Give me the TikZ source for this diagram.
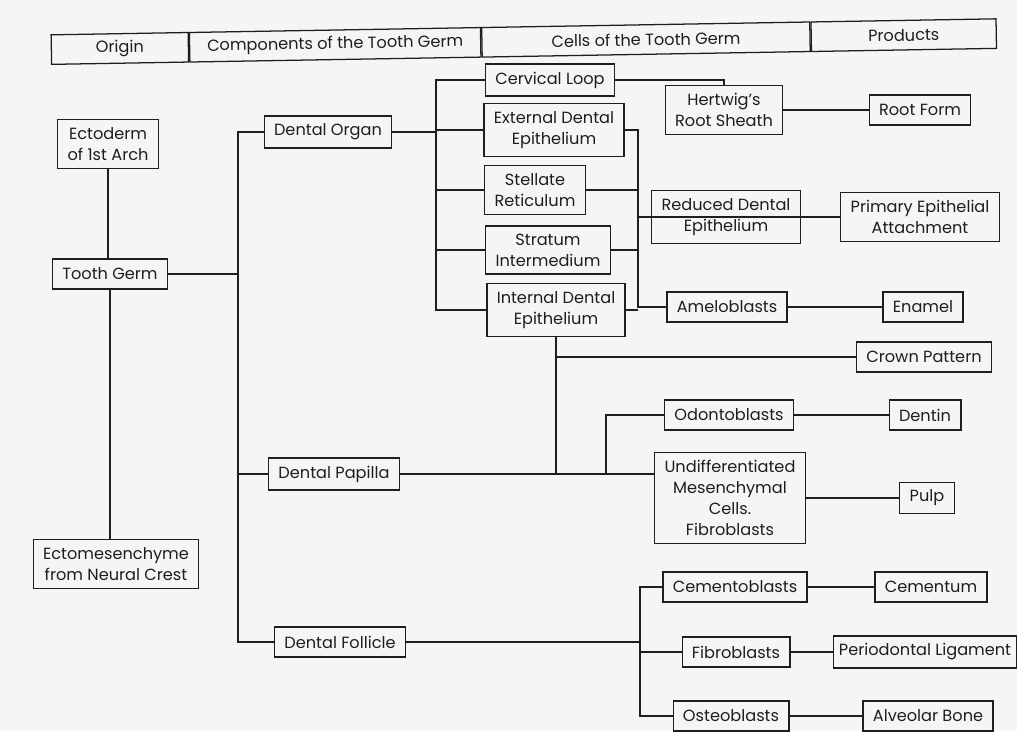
\documentclass[tikz,border=0pt]{standalone}
\usepackage{fontspec}
\setmainfont{Poppins}
\usepackage{tikz}
\definecolor{ink}{HTML}{1E1E1E}
\definecolor{paper}{HTML}{F5F5F5}
\newcommand{\boxfont}{\fontsize{11.5}{15}\selectfont}

\begin{document}
\begin{tikzpicture}[x=0.025cm, y=-0.025cm,
        box/.style={draw=ink, line width=0.9pt, text=ink, font=\boxfont,
                align=center, inner xsep=7pt, inner ysep=5.5pt,
                minimum height=21.5pt},
        hcell/.style={draw=ink, line width=0.9pt, text=ink, font=\boxfont,
                minimum height=21pt, inner sep=0pt},
        link/.style={draw=ink, line width=0.9pt}
    ]
    \fill[paper] (0,0) rectangle (1017,731);
    \useasboundingbox (0,0) rectangle (1017,731);

    % Intestazione: leggermente inclinata come nella scansione
    \begin{scope}[shift={(51,65)}, rotate=0.97, transform shape]
        \node[hcell, minimum width=3.425cm, anchor=south west] (hor) at (0,0) {Origin};
        \node[hcell, minimum width=7.275cm, anchor=west] (hco) at (hor.east) {Components of the Tooth Germ};
        \node[hcell, minimum width=8.2cm, anchor=west] (hce) at (hco.east) {Cells of the Tooth Germ};
        \node[hcell, minimum width=4.625cm, anchor=west] (hpr) at (hce.east) {Products};
    \end{scope}

    % Origine e componenti
    \node[box] (ect) at (108,144) {Ectoderm\\of 1st Arch};
    \node[box] (ger) at (110,274) {Tooth Germ};
    \node[box] (ems) at (116,564) {Ectomesenchyme\\from Neural Crest};
    \node[box] (org) at (328,132) {Dental Organ};
    \node[box] (pap) at (334,474) {Dental Papilla};
    \node[box] (fol) at (340,642) {Dental Follicle};

    % Cellule
    \node[box] (cer) at (550,80)  {Cervical Loop};
    \node[box] (ede) at (554,130) {External Dental\\Epithelium};
    \node[box] (ste) at (535,190) {Stellate\\Reticulum};
    \node[box] (str) at (548,250) {Stratum\\Intermedium};
    \node[box] (ide) at (556,310) {Internal Dental\\Epithelium};
    \node[box] (her) at (724,110) {Hertwig’s\\Root Sheath};
    \node[box] (red) at (726,217) {Reduced Dental\\Epithelium};
    \node[box] (ame) at (727,307) {Ameloblasts};
    \node[box] (odo) at (729,415) {Odontoblasts};
    \node[box] (umc) at (730,498) {Undifferentiated\\Mesenchymal\\Cells.\\Fibroblasts};
    \node[box] (cmb) at (735,587) {Cementoblasts};
    \node[box] (fib) at (736,652) {Fibroblasts};
    \node[box] (ost) at (731,716) {Osteoblasts};

    % Prodotti
    \node[box] (roo) at (920,110) {Root Form};
    \node[box] (pea) at (920,217) {Primary Epithelial\\Attachment};
    \node[box] (ena) at (923,307) {Enamel};
    \node[box] (cro) at (924,357) {Crown Pattern};
    \node[box] (den) at (925,415) {Dentin};
    \node[box] (pul) at (927,498) {Pulp};
    \node[box] (cem) at (931,587) {Cementum};
    \node[box, inner xsep=4pt] (pdl) at (925,652) {Periodontal Ligament};
    \node[box] (alv) at (928,716) {Alveolar Bone};

    \coordinate (t1) at (238,0);
    \coordinate (t2) at (436,0);
    \coordinate (t3) at (638,0);
    \coordinate (t4) at (606,0);
    \coordinate (t5) at (640,0);

    \draw[link] (ect.south) -- (ect.south |- ger.north);
    \draw[link] (ger.south) -- (ger.south |- ems.north);
    \draw[link] (ger.east) -- (ger.east -| t1);
    \draw[link] (org.west) -- (org.west -| t1) |- (fol.west);
    \draw[link] (pap.west) -- (pap.west -| t1);

    \draw[link] (org.east) -- (org.east -| t2);
    \draw[link] (cer.west) -- (cer.west -| t2) |- (ide.west);
    \foreach \n in {ede, ste, str}
        \draw[link] (\n.west) -- (\n.west -| t2);

    \draw[link] (cer.east) -| (her.north);
    \draw[link] (ede.east) -- (ede.east -| t3) |- (ame.west);
    \foreach \n in {ste, str, ide, red}
        \draw[link] (\n.east) -- (\n.east -| t3);

    \draw[link] (ide.south) -- (ide.south |- pap.east);
    \draw[link] (pap.east) -- (pap.east -| umc.west);
    \draw[link] (cro.west) -- (cro.west -| ide.south);
    \draw[link] (odo.west) -| (t4 |- pap.east);

    \draw[link] (fol.east) -- (fol.east -| t5);
    \draw[link] (cmb.west) -- (cmb.west -| t5) |- (ost.west);
    \draw[link] (fib.west) -- (fib.west -| t5);

    % cellule -> prodotti
    \foreach \a/\b in {her/roo, red/pea, ame/ena, odo/den, umc/pul, cmb/cem, fib/pdl, ost/alv}
        \draw[link] (\a) -- (\b);
\end{tikzpicture}
\end{document}
